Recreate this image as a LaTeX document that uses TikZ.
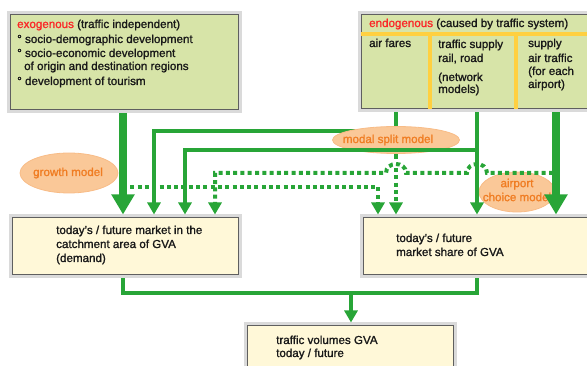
\documentclass[tikz,border=0pt]{standalone}
\usepackage{fontspec}
\setmainfont{Liberation Sans}[FakeBold=1.4]
\usetikzlibrary{arrows.meta,shapes.geometric}
\definecolor{lgreen}{RGB}{40,165,55}
\definecolor{exofill}{RGB}{215,228,168}
\definecolor{creamfill}{RGB}{255,248,216}
\definecolor{framegray}{RGB}{218,218,218}
\definecolor{boxborder}{RGB}{95,95,95}
\definecolor{ylw}{RGB}{255,208,64}
\definecolor{ofill}{RGB}{250,200,152}
\definecolor{oborder}{RGB}{248,188,135}
\definecolor{otext}{RGB}{240,125,35}
\definecolor{redtext}{RGB}{250,40,40}
\definecolor{textcol}{RGB}{25,25,25}
\begin{document}
\begin{tikzpicture}[x=1pt,y=-1pt,
  txt/.style={inner sep=0pt, anchor=base west, text=textcol, font=\fontsize{11.6}{14}\selectfont},
  otxt/.style={inner sep=0pt, text=otext, align=center, font=\fontsize{11.6}{14}\selectfont},
  boxbase/.style={draw=boxborder, line width=0.8pt, preaction={draw=framegray, line width=7pt}, inner sep=0pt, anchor=north west},
  greenbox/.style={boxbase, fill=exofill},
  creambox/.style={boxbase, fill=creamfill},
  oell/.style={ellipse, fill=ofill, draw=oborder, line width=0.8pt, inner sep=0pt},
  conn/.style={draw=lgreen, line width=3.5pt},
  arr/.style={conn, -{Triangle[width=13pt,length=12pt]}, shorten >=2.5pt},
  dotln/.style={draw=lgreen, line width=4pt, dash pattern=on 4pt off 3.3pt},
  dotarr/.style={dotln, -{Triangle[width=13pt,length=12pt]}, shorten >=2.5pt},
  bigarr/.style={draw=lgreen, line width=7.5pt, -{Triangle[width=22pt,length=20pt]}, shorten >=2.5pt, shorten <=3.5pt},
  divider/.style={draw=ylw, line width=4.5pt}
]
\useasboundingbox (0,0) rectangle (587,366);

% boxes
\node[greenbox, minimum width=228pt, minimum height=95pt] (exo) at (10,14) {};
\node[greenbox, minimum width=231pt, minimum height=94pt] (endo) at (361,14) {};
\node[creambox, minimum width=226pt, minimum height=57pt] (market) at (12,217) {};
\node[creambox, minimum width=229pt, minimum height=57pt] (share) at (363,217) {};
\node[creambox, minimum width=206pt, minimum height=60pt] (volumes) at (247,325) {};

% dividers of the endogenous box
\coordinate (dv1) at (430,34);
\coordinate (dv2) at (516,34);
\draw[divider] (endo.west |- dv1) -- (endo.east |- dv1);
\draw[divider] (dv1) -- (dv1 |- endo.south);
\draw[divider] (dv2) -- (dv2 |- endo.south);

% texts
\node[txt] (exo1) at (17,28) {\textcolor{redtext}{exogenous} (traffic independent)};
\node[txt] (exo2) at (17,43) {° socio-demographic development};
\node[txt] (exo3) at (17,57) {° socio-economic development};
\node[txt] (exo4) at (24,70) {of origin and destination regions};
\node[txt] (exo5) at (17,85) {° development of tourism};

\node[txt] (endo1) at (369,27) {\textcolor{redtext}{endogenous} (caused by traffic system)};
\node[txt] (fares) at (369,47) {air fares};
\node[txt] (rail1) at (438,48) {traffic supply};
\node[txt] (rail2) at (438,62) {rail, road};
\node[txt] (rail3) at (438,81) {(network};
\node[txt] (rail4) at (438,93) {models)};
\node[txt] (sup1) at (528,47) {supply};
\node[txt] (sup2) at (528,62) {air traffic};
\node[txt] (sup3) at (528,75) {(for each};
\node[txt] (sup4) at (528,88) {airport)};

\node[txt] (m1) at (56,234) {today’s / future market in the};
\node[txt] (m2) at (56,248) {catchment area of GVA};
\node[txt] (m3) at (56,262) {(demand)};
\node[txt] (s1) at (396,242) {today’s / future};
\node[txt] (s2) at (396,256) {market share of GVA};
\node[txt] (v1) at (276,344) {traffic volumes GVA};
\node[txt] (v2) at (276,357) {today / future};

% ellipses (behind connectors)
\node[oell, minimum width=98pt, minimum height=40pt] (growth) at (69,173) {};
\node[otxt] (growtht) at (68,173) {growth model};
\node[oell, minimum width=76pt, minimum height=40pt] (airport) at (517,192) {};
\node[otxt] (airportt) at (517,190) {airport\\choice model};

% column / row coordinates
\coordinate (xA) at (123,0);
\coordinate (xB) at (154,0);
\coordinate (xC) at (185,0);
\coordinate (xD) at (215,0);
\coordinate (xE) at (378,0);
\coordinate (xF) at (396,0);
\coordinate (xG) at (477,0);
\coordinate (xH) at (556,0);
\coordinate (xV) at (351,0);
\coordinate (yB) at (0,131);
\coordinate (yC) at (0,150);
\coordinate (yD) at (0,173);
\coordinate (yE) at (0,187);
\coordinate (yJ) at (0,293);
\coordinate (fstub) at (396,159);
\coordinate (fdot) at (396,168);

% exogenous -> market (thick)
\draw[bigarr] (xA |- exo.south) -- (xA |- market.north);
% exogenous -> share (dotted)
\draw[dotarr] (xA |- yE) -- (xE |- yE) -- (xE |- share.north);
% air fares -> market
\draw[conn, shorten <=3.5pt] (xF |- endo.south) -- (fstub);
\draw[arr] (xF |- yB) -- (xB |- yB) -- (xB |- market.north);
% modal split model
\node[oell, minimum width=127pt, minimum height=27pt] (modal) at (396,140) {};
\node[otxt] (modalt) at (388,140) {modal split model};
% modal split -> share (dotted)
\draw[dotarr] (fdot) -- (xF |- share.north);
% rail/road -> share and market
\draw[arr, shorten <=3.5pt] (xG |- endo.south) -- (xG |- share.north);
\draw[arr] (xG |- yC) -- (xC |- yC) -- (xC |- market.north);
% airport supply -> market (dotted, with hops)
\draw[dotarr] (553,173) -- (487,173) .. controls (487,161) and (467,161) .. (467,173)
  -- (406,173) .. controls (406,161) and (386,161) .. (386,173)
  -- (xD |- yD) -- (xD |- market.north);
% airport supply -> share (thick)
\draw[bigarr] (xH |- endo.south) -- (xH |- share.north);

% market + share -> volumes
\draw[conn, shorten <=3.5pt, shorten >=3.5pt] (xA |- market.south) -- (xA |- yJ) -- (xG |- yJ) -- (xG |- share.south);
\draw[arr] (xV |- yJ) -- (xV |- volumes.north);
\end{tikzpicture}
\end{document}
